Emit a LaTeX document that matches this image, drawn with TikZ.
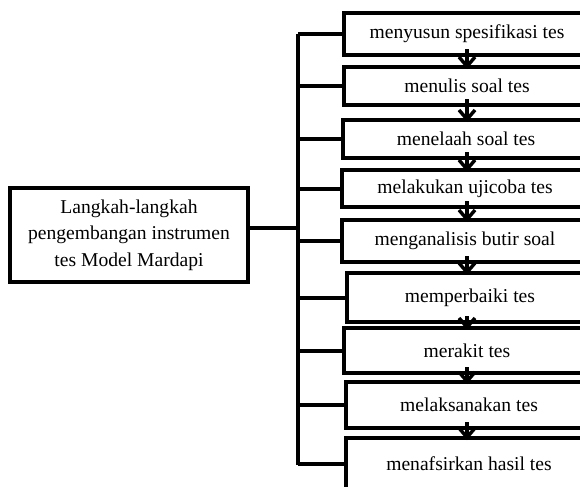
\documentclass[tikz,border=0pt]{standalone}
\usepackage{fontspec}
\setmainfont{Liberation Serif}
\usetikzlibrary{arrows.meta, positioning}
\tikzstyle{stepbox} = [draw=black, line width=3pt, fill=white, minimum width=184.5pt, text centered, font=\fontsize{14.7}{20}\selectfont]
\tikzstyle{bus} = [line width=3pt]
\tikzstyle{flow} = [line width=3pt, -{Straight Barb[length=7pt, width=12pt, line width=2.6pt]}]

\begin{document}
\begin{tikzpicture}[x=0.75pt, y=-0.75pt]
    \useasboundingbox (0,0) rectangle (580,486);
    \clip (0,0) rectangle (580,486);

    % Main box on the left
    \node (steps) [draw=black, line width=2.6pt, minimum width=178.5pt, minimum height=70.5pt, align=center, font=\fontsize{14.7}{20}\selectfont] at (129,235) {Langkah-langkah\\pengembangan instrumen\\tes Model Mardapi};

    % The nine steps
    \node (b1) [stepbox, minimum height=31.5pt] at (467,34) {menyusun spesifikasi tes};
    \node (b2) [stepbox, minimum height=28.5pt] at (467,86) {menulis soal tes};
    \node (b3) [stepbox, minimum height=28.5pt] at (466,139) {menelaah soal tes};
    \node (b4) [stepbox, minimum height=27.8pt] at (465,188.5) {melakukan ujicoba tes};
    \node (b5) [stepbox, minimum height=31.5pt] at (465,241) {menganalisis butir soal};
    \node (b6) [stepbox, minimum height=36.8pt] at (470,297.5) {memperbaiki tes};
    \node (b7) [stepbox, minimum height=33.8pt] at (467,350.5) {merakit tes};
    \node (b8) [stepbox, minimum height=34.5pt] at (469,405) {melaksanakan tes};
    \node (b9) [stepbox, minimum height=39pt] at (469,464) {menafsirkan hasil tes};

    % Bracket joining the main box to the steps
    \coordinate (bustop) at (298,34);
    \coordinate (busbot) at (298,465);
    \coordinate (junction) at (298,228);
    \draw[bus] (bustop) -- (busbot);
    \draw[bus] (steps.east |- junction) -- (junction);
    \foreach \n in {1,...,9}
        \draw[bus] (bustop |- b\n.west) -- (b\n.west);

    % Arrows from step to step
    \foreach \a/\b in {1/2, 2/3, 3/4, 4/5, 5/6, 6/7, 7/8, 8/9}
        \draw[flow] ([yshift=6pt]b\a.south -| b1.south) -- ([yshift=-3pt]b\b.north -| b1.south);

\end{tikzpicture}
\end{document}
